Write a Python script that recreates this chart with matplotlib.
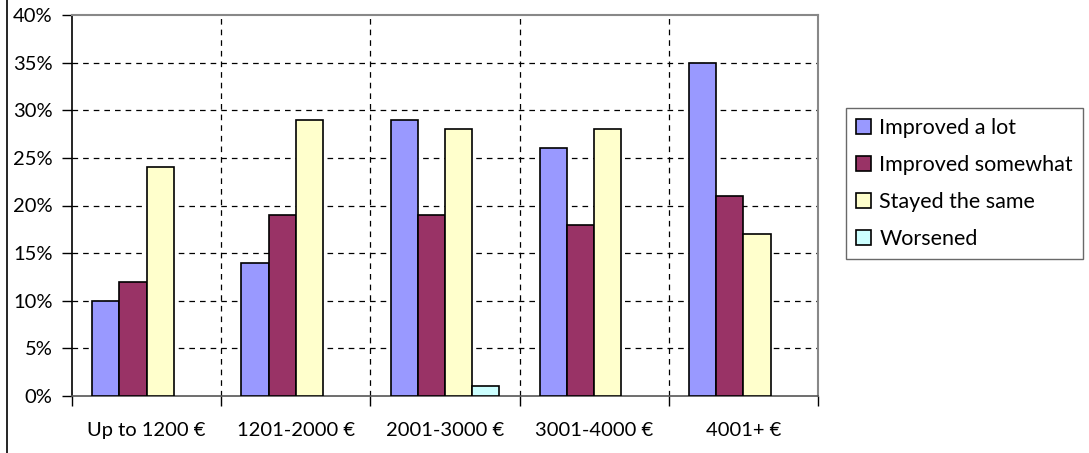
import matplotlib
matplotlib.use("Agg")
import matplotlib.pyplot as plt
from matplotlib.lines import Line2D
from matplotlib.patches import Patch
from matplotlib.ticker import FuncFormatter, MultipleLocator
import numpy as np

categories = ["Up to 1200 €", "1201-2000 €", "2001-3000 €", "3001-4000 €", "4001+ €"]
series_names = ["Improved a lot", "Improved somewhat", "Stayed the same", "Worsened"]
improved_a_lot = [10, 14, 29, 26, 35]
improved_somewhat = [12, 19, 19, 18, 21]
stayed_the_same = [24, 29, 28, 28, 17]
worsened = [0, 0, 1, 0, 0]
colors = ["#9999FF", "#993366", "#FFFFCC", "#CCFFFF"]

plt.rcParams['font.family'] = ['Lato', 'DejaVu Sans']

fig = plt.figure(figsize=(10.89, 4.53), dpi=100)
ax = fig.add_axes([72/1089, 1-396/453, (818-72)/1089, (396-15)/453])

data = [improved_a_lot, improved_somewhat, stayed_the_same, worsened]
x = np.arange(len(categories))
w = 0.182
for i, (vals, name, c) in enumerate(zip(data, series_names, colors)):
    bars = ax.bar(x + (i - 1.5) * w, vals, width=w, color=c, edgecolor="black",
                  linewidth=1.2, zorder=3)
    for b, v in zip(bars, vals):
        if v == 0:
            b.set_visible(False)

ax.set_xlim(-0.5, len(categories) - 0.5)
ax.set_ylim(0, 40)
ax.yaxis.set_major_locator(MultipleLocator(5))
ax.yaxis.set_major_formatter(FuncFormatter(lambda v, p: f"{int(v)}%"))
ax.set_xticks(x)
ax.set_xticklabels(categories)
ax.set_xticks(np.arange(-0.5, len(categories), 1.0), minor=True)

ax.tick_params(axis="x", which="major", length=0, pad=19, labelsize=14.5)
ax.tick_params(axis="x", which="minor", length=7, width=1, color="black", direction="out")
ax.tick_params(axis="y", which="major", length=7, width=1, color="black", direction="out", labelsize=14.5, pad=7)

dash = (0, (4.5, 4))
for yv in range(5, 40, 5):
    ax.axhline(yv, color="black", lw=0.9, linestyle=dash, zorder=1)
for xv in np.arange(0.5, len(categories) - 0.5, 1.0):
    ax.axvline(xv, color="black", lw=0.9, linestyle=dash, zorder=1)

ax.spines["left"].set_color("black")
ax.spines["left"].set_linewidth(1.2)
ax.spines["bottom"].set_color("#555555")
ax.spines["bottom"].set_linewidth(1.2)
ax.spines["top"].set_color("#888888")
ax.spines["top"].set_linewidth(1.5)
ax.spines["right"].set_color("#888888")
ax.spines["right"].set_linewidth(1.5)

handles = [Patch(facecolor=c, edgecolor="black", linewidth=1.2, label=n)
           for c, n in zip(colors, series_names)]
leg = fig.legend(handles=handles, loc="upper left", bbox_to_anchor=(846/1089, 1-108/453),
                 frameon=True, fancybox=False, edgecolor="#444444",
                 fontsize=15.5, handlelength=0.7, handleheight=0.7,
                 handletextpad=0.4, labelspacing=0.8, borderpad=0.45,
                 borderaxespad=0)
leg.get_frame().set_linewidth(1.0)

fig.add_artist(Line2D([6.5/1089, 6.5/1089], [0, 1], transform=fig.transFigure,
                      color="black", lw=1.2))

fig.savefig("out.png", dpi=100)
